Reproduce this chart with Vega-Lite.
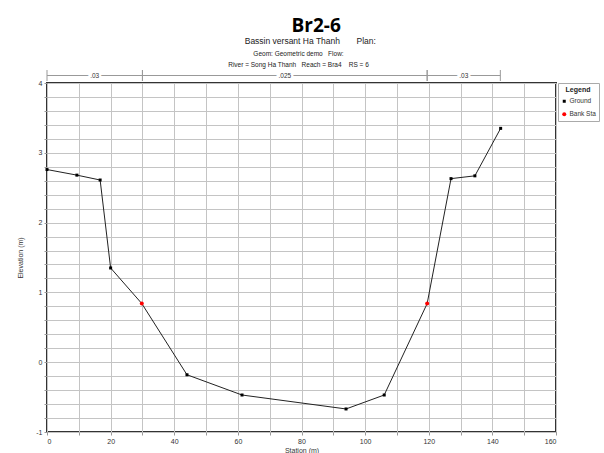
{
  "$schema": "https://vega.github.io/schema/vega-lite/v6.json",
  "background": "white",
  "padding": {"left": 15, "top": 17, "right": 2, "bottom": 0},
  "title": {"text": "Br2-6", "font": "Open Sans", "fontSize": 19, "fontWeight": "bold", "color": "#000", "anchor": "middle", "dx": 8, "offset": 1},
  "config": {
    "font": "Liberation Sans",
    "view": {"stroke": "#333", "strokeWidth": 2},
    "axis": {"labelFont": "Liberation Sans", "titleFont": "Liberation Sans", "labelColor": "#333", "titleColor": "#333", "labelFontSize": 7, "titleFontSize": 7, "titleFontWeight": "normal", "domain": false, "tickColor": "#999", "tickSize": 3, "labelPadding": 2, "gridColor": "#c4c4c4", "gridWidth": 1}
  },
  "bounds": "flush",
  "spacing": 2,
  "resolve": {"legend": {"color": "independent", "shape": "independent", "size": "independent"}},
  "datasets": {
    "manning": [
      {"start": 0, "end": 30, "n": ".03"},
      {"start": 30, "end": 119.5, "n": ".025"},
      {"start": 119.5, "end": 142.5, "n": ".03"}
    ],
    "section": [
      {"station": 0, "elevation": 2.76, "kind": "Ground"},
      {"station": 9.4, "elevation": 2.68, "kind": "Ground"},
      {"station": 16.7, "elevation": 2.61, "kind": "Ground"},
      {"station": 20, "elevation": 1.35, "kind": "Ground"},
      {"station": 29.8, "elevation": 0.84, "kind": "Bank Sta"},
      {"station": 44, "elevation": -0.18, "kind": "Ground"},
      {"station": 61.3, "elevation": -0.47, "kind": "Ground"},
      {"station": 94, "elevation": -0.67, "kind": "Ground"},
      {"station": 106, "elevation": -0.47, "kind": "Ground"},
      {"station": 119.5, "elevation": 0.84, "kind": "Bank Sta"},
      {"station": 127, "elevation": 2.63, "kind": "Ground"},
      {"station": 134.5, "elevation": 2.67, "kind": "Ground"},
      {"station": 142.6, "elevation": 3.35, "kind": "Ground"}
    ]
  },
  "vconcat": [
    {
      "width": 509,
      "height": 11,
      "view": {"stroke": null},
      "title": {
        "text": "\u200b\u00a0\u00a0\u00a0\u00a0\u00a0\u00a0\u00a0\u00a0\u00a0\u00a0Bassin versant Ha Thanh\u00a0\u00a0\u00a0\u00a0\u00a0\u00a0\u00a0Plan:",
        "subtitle": ["Geom: Geometric demo\u00a0\u00a0\u00a0Flow:", "River = Song Ha Thanh\u00a0\u00a0\u00a0Reach = Bra4\u00a0\u00a0\u00a0\u00a0RS = 6"],
        "font": "Liberation Sans", "fontSize": 8.5, "fontWeight": "normal", "color": "#222",
        "subtitleFont": "Liberation Sans", "subtitleFontSize": 6.5, "subtitleColor": "#222", "subtitlePadding": 5, "subtitleLineHeight": 11.5,
        "anchor": "middle", "dx": -3, "offset": 1
      },
      "data": {"name": "manning"},
      "layer": [
        {
          "mark": {"type": "rule", "color": "#999", "strokeWidth": 1},
          "encoding": {
            "x": {"field": "start", "type": "quantitative", "scale": {"domain": [0, 160], "nice": false}, "axis": null},
            "x2": {"field": "end"},
            "y": {"datum": 0.5, "type": "quantitative", "scale": {"domain": [0, 1]}, "axis": null}
          }
        },
        {
          "mark": {"type": "rule", "color": "#999", "strokeWidth": 1},
          "encoding": {"x": {"field": "start", "type": "quantitative"}}
        },
        {
          "mark": {"type": "rule", "color": "#999", "strokeWidth": 1},
          "encoding": {"x": {"field": "end", "type": "quantitative"}}
        },
        {
          "transform": [
            {"fold": ["start", "end"], "as": ["edge", "pos"]},
            {"aggregate": [{"op": "mean", "field": "pos", "as": "mid"}], "groupby": ["n", "start"]}
          ],
          "mark": {"type": "text", "fontSize": 6.5, "fill": "white", "stroke": "white", "strokeWidth": 5, "baseline": "middle"},
          "encoding": {
            "x": {"field": "mid", "type": "quantitative"},
            "y": {"datum": 0.5, "type": "quantitative"},
            "text": {"field": "n"}
          }
        },
        {
          "transform": [
            {"fold": ["start", "end"], "as": ["edge", "pos"]},
            {"aggregate": [{"op": "mean", "field": "pos", "as": "mid"}], "groupby": ["n", "start"]}
          ],
          "mark": {"type": "text", "fontSize": 6.5, "color": "#333", "baseline": "middle"},
          "encoding": {
            "x": {"field": "mid", "type": "quantitative"},
            "y": {"datum": 0.5, "type": "quantitative"},
            "text": {"field": "n"}
          }
        }
      ]
    },
    {
      "width": 509,
      "height": 349,
      "data": {"name": "section"},
      "encoding": {
        "x": {
          "field": "station", "type": "quantitative",
          "scale": {"domain": [0, 160], "nice": false},
          "axis": {"title": "Station (m)", "titlePadding": 2, "grid": true,
            "values": [0, 10, 20, 30, 40, 50, 60, 70, 80, 90, 100, 110, 120, 130, 140, 150, 160],
            "labelExpr": "datum.value % 20 === 0 ? '' + datum.value : ''"}
        },
        "y": {
          "field": "elevation", "type": "quantitative",
          "scale": {"domain": [-1, 4], "nice": false, "zero": false},
          "axis": {"title": "Elevation (m)", "titlePadding": 12, "grid": true,
            "values": [-1, -0.8, -0.6, -0.4, -0.2, 0, 0.2, 0.4, 0.6, 0.8, 1, 1.2, 1.4, 1.6, 1.8, 2, 2.2, 2.4, 2.6, 2.8, 3, 3.2, 3.4, 3.6, 3.8, 4],
            "labelExpr": "datum.value % 1 === 0 ? '' + datum.value : ''"}
        }
      },
      "layer": [
        {"mark": {"type": "line", "color": "#222", "strokeWidth": 1}},
        {
          "mark": {"type": "point", "filled": true, "opacity": 1},
          "encoding": {
            "color": {"field": "kind", "type": "nominal", "scale": {"domain": ["Ground", "Bank Sta"], "range": ["#000000", "#ff0000"]},
              "legend": {"title": "Legend", "orient": "right", "offset": 2, "strokeColor": "#aaa", "fillColor": "white", "padding": 3,
                "titleFont": "Liberation Sans", "titleFontSize": 7, "titleFontWeight": "bold", "titleColor": "#222", "titleAnchor": "middle", "titlePadding": 5,
                "labelFont": "Liberation Sans", "labelFontSize": 6.5, "labelColor": "#333", "symbolSize": 10, "rowPadding": 6, "labelOffset": 2}},
            "shape": {"field": "kind", "type": "nominal", "scale": {"domain": ["Ground", "Bank Sta"], "range": ["square", "circle"]},
              "legend": {"title": "Legend", "orient": "right", "offset": 2, "strokeColor": "#aaa", "fillColor": "white", "padding": 3,
                "titleFont": "Liberation Sans", "titleFontSize": 7, "titleFontWeight": "bold", "titleColor": "#222", "titleAnchor": "middle", "titlePadding": 5,
                "labelFont": "Liberation Sans", "labelFontSize": 6.5, "labelColor": "#333", "symbolSize": 10, "rowPadding": 6, "labelOffset": 2}},
            "size": {"field": "kind", "type": "nominal", "scale": {"domain": ["Ground", "Bank Sta"], "range": [9, 16]}, "legend": null}
          }
        }
      ]
    }
  ]
}
